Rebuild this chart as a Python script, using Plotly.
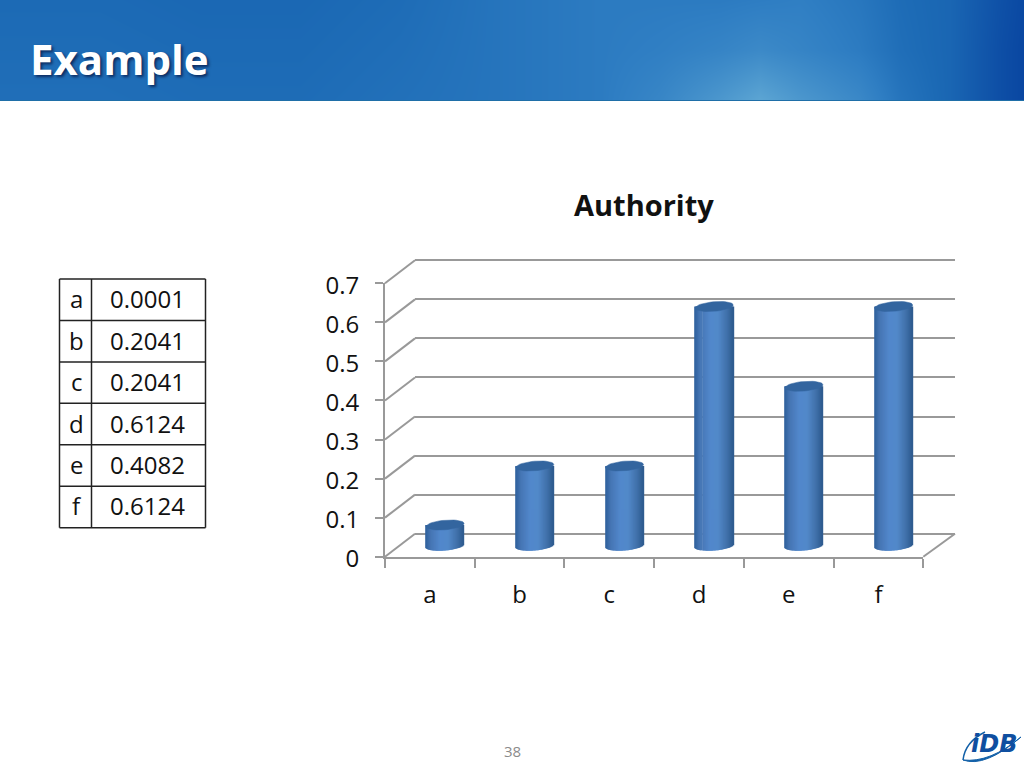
import math
import plotly.graph_objects as go

# ---- data ----
categories = ["a", "b", "c", "d", "e", "f"]
bar_values = [0.053, 0.2041, 0.2041, 0.6124, 0.4082, 0.6124]
table_names = ["a", "b", "c", "d", "e", "f"]
table_values = ["0.0001", "0.2041", "0.2041", "0.6124", "0.4082", "0.6124"]
y_ticks = [0, 0.1, 0.2, 0.3, 0.4, 0.5, 0.6, 0.7]
y_tick_labels = ["0", "0.1", "0.2", "0.3", "0.4", "0.5", "0.6", "0.7"]
title_text = "Example"
chart_title = "Authority"
page_number = "38"

# header backdrop: lightness samples
hdr_x = [0, 100, 200, 300, 400, 500, 600, 660, 720, 760, 800, 860, 900, 950, 1000, 1024]
hdr_y = [0, 50, 100]
hdr_l = [
    [.36, .36, .34, .34, .38, .46, .52, .52, .52, .54, .56, .48, .38, .32, .12, .04],
    [.38, .38, .36, .36, .40, .46, .52, .56, .62, .68, .62, .52, .40, .32, .10, .02],
    [.40, .40, .38, .38, .42, .46, .52, .64, .84, 1.0, .84, .66, .46, .32, .10, .02],
]
hdr_scale = [[0, "#0844A0"], [.36, "#1C6AB5"], [.55, "#2F7EC3"], [1, "#5CA5D3"]]

FONT = "Open Sans"
GRAY = "#999999"
W, H = 1024, 768


def fx(p):
    return p / W


def fy(p):
    return 1 - p / H


# chart frame (page pixels)
FRONT_L, FRONT_R, FRONT_TOP, FRONT_ZERO = 385.0, 923.3, 283.3, 556.7
DEPTH_X, DEPTH_Y = 30.0, 23.0
PX_PER_VALUE = (FRONT_ZERO - FRONT_TOP) / 0.7
BAR_SHIFT_X, BAR_SHIFT_Y = 15.2, 11.0
BAR_HALF = 0.212   # category units
ELL_B, ELL_TILT = 4.8, 1.5  # px
Y3_LOW, Y3_HIGH = -0.05, 0.75
WALL_LOW, WALL_HIGH = -0.01, 0.71
LABEL_DROP = 2.0

fig = go.Figure()

# header gradient
fig.add_trace(go.Heatmap(x=hdr_x, y=hdr_y, z=hdr_l, zmin=0, zmax=1, colorscale=hdr_scale,
                         zsmooth="best", showscale=False, hoverinfo="skip",
                         xaxis="x4", yaxis="y4"))

# back wall (gridlines live on this axis)
fig.add_trace(go.Scatter(x=[0], y=[0], mode="markers", marker=dict(opacity=0),
                         showlegend=False, hoverinfo="skip", xaxis="x", yaxis="y"))
# front axis
fig.add_trace(go.Scatter(x=categories, y=[0] * 6, mode="markers", marker=dict(opacity=0),
                         showlegend=False, hoverinfo="skip", xaxis="x2", yaxis="y2"))
# value labels axis
fig.add_trace(go.Scatter(x=categories, y=[0] * 6, mode="markers", marker=dict(opacity=0),
                         showlegend=False, hoverinfo="skip", xaxis="x2", yaxis="y5"))

# cylinders as narrow shaded strips
stops = [(0, (0x2D, 0x5F, 0x9B)), (.15, (0x46, 0x76, 0xB4)), (.4, (0x52, 0x88, 0xCC)),
         (.6, (0x52, 0x89, 0xC9)), (.85, (0x3F, 0x6F, 0xA8)), (1, (0x2E, 0x5A, 0x8E))]


def shade(t):
    for (a, ca), (b, cb) in zip(stops, stops[1:]):
        if t <= b:
            k = (t - a) / (b - a)
            return "rgb(%d,%d,%d)" % tuple(round(p + (q - p) * k) for p, q in zip(ca, cb))
    return "rgb(46,90,142)"


N = 38
idx = list(range(len(categories)))
strip = 2 * BAR_HALF / N
for i in range(N):
    u = -1 + (2 * i + 1) / N
    drop = (ELL_B * math.sqrt(max(0, 1 - u * u)) - ELL_TILT * u) / PX_PER_VALUE
    fig.add_trace(go.Bar(x=idx, y=[v + drop for v in bar_values], base=[-drop] * 6,
                         width=strip * 1.4 if i < N - 1 else strip, offset=-BAR_HALF + i * strip,
                         marker=dict(color=shade((i + .5) / N), line=dict(width=0)),
                         showlegend=False, hoverinfo="skip", cliponaxis=False,
                         xaxis="x3", yaxis="y3"))

# cylinder tops
ex, ey = [], []
for k, v in zip(idx, bar_values):
    for s in range(41):
        t = 2 * math.pi * s / 40
        ex.append(k + BAR_HALF * math.cos(t))
        ey.append(v + (ELL_B * math.sin(t) + ELL_TILT * math.cos(t)) / PX_PER_VALUE)
    ex.append(None)
    ey.append(None)
fig.add_trace(go.Scatter(x=ex, y=ey, mode="lines", fill="toself", fillcolor="#33659F",
                         line=dict(width=0.5, color="#33659F"), showlegend=False,
                         hoverinfo="skip", cliponaxis=False, xaxis="x3", yaxis="y3"))

shapes = []
# side wall and floor diagonals
for v in y_ticks:
    y0 = FRONT_ZERO - v * PX_PER_VALUE
    shapes.append(dict(type="line", xref="paper", yref="paper", x0=fx(FRONT_L), y0=fy(y0),
                       x1=fx(FRONT_L + DEPTH_X), y1=fy(y0 - DEPTH_Y),
                       line=dict(color=GRAY, width=2), layer="below"))
shapes.append(dict(type="line", xref="paper", yref="paper", x0=fx(FRONT_R), y0=fy(FRONT_ZERO),
                   x1=fx(FRONT_R + 31.7), y1=fy(FRONT_ZERO - DEPTH_Y),
                   line=dict(color=GRAY, width=2), layer="below"))

# table grid
T_L, T_M, T_R, T_T, T_B = 59.5, 91.5, 205.5, 279.0, 527.7
row_h = (T_B - T_T) / len(table_names)
for x in (T_L, T_M, T_R):
    shapes.append(dict(type="line", xref="paper", yref="paper", x0=fx(x), x1=fx(x),
                       y0=fy(T_T), y1=fy(T_B), line=dict(color="#222222", width=1.5)))
for r in range(len(table_names) + 1):
    y = T_T + r * row_h
    shapes.append(dict(type="line", xref="paper", yref="paper", x0=fx(T_L), x1=fx(T_R),
                       y0=fy(y), y1=fy(y), line=dict(color="#222222", width=1.5)))

# header bottom rim
shapes.append(dict(type="line", xref="paper", yref="paper", x0=0, x1=1, y0=fy(100.5), y1=fy(100.5),
                   line=dict(color="#1F6FA8", width=1)))

# logo swoosh
shapes.append(dict(type="path", xref="paper", yref="paper",
                   path="M %f %f Q %f %f %f %f Q %f %f %f %f Z" % (
                       fx(963), fy(760), fx(985), fy(768), fx(1021), fy(737),
                       fx(990), fy(763), fx(963), fy(760)),
                   fillcolor="#1260A8", line=dict(color="#1260A8", width=1)))
shapes.append(dict(type="path", xref="paper", yref="paper",
                   path="M %f %f Q %f %f %f %f" % (fx(963), fy(760), fx(965), fy(742), fx(985), fy(732)),
                   line=dict(color="#1260A8", width=1.5)))

annotations = []
for r, (n, val) in enumerate(zip(table_names, table_values)):
    yc = T_T + (r + .5) * row_h - 1
    annotations.append(dict(text=n, x=fx((T_L + T_M) / 2 + 1), y=fy(yc), xref="paper", yref="paper",
                            showarrow=False, xanchor="center", yanchor="middle",
                            font=dict(family=FONT, size=24, color="#111111")))
    annotations.append(dict(text=val, x=fx(147.5), y=fy(yc), xref="paper", yref="paper",
                            showarrow=False, xanchor="center", yanchor="middle",
                            font=dict(family=FONT, size=24, color="#111111")))
annotations += [
    dict(text=title_text, x=fx(28), y=fy(58), xref="paper", yref="paper", showarrow=False,
         xanchor="left", yanchor="middle",
         font=dict(family=FONT, size=42, color="white", weight="bold",
                   shadow="2px 2px 3px rgba(0,0,40,0.6)")),
    dict(text=chart_title, x=fx(644), y=fy(204), xref="paper", yref="paper", showarrow=False,
         xanchor="center", yanchor="middle",
         font=dict(family=FONT, size=29, color="#111111", weight="bold")),
    dict(text=page_number, x=fx(512), y=fy(751), xref="paper", yref="paper", showarrow=False,
         xanchor="center", yanchor="middle", font=dict(family=FONT, size=15, color="#8B8B8B")),
    dict(text="iDB", x=fx(994), y=fy(744), xref="paper", yref="paper", showarrow=False,
         xanchor="center", yanchor="middle",
         font=dict(family="DejaVu Sans", size=24, color="#0F4FA0", weight="bold", style="italic")),
]

hidden = dict(visible=False, showgrid=False, zeroline=False)
fig.update_layout(
    width=W, height=H, margin=dict(l=0, r=0, t=0, b=0, pad=0, autoexpand=False),
    paper_bgcolor="white", plot_bgcolor="rgba(0,0,0,0)",
    barmode="overlay", showlegend=False, font=dict(family=FONT, color="#111111"),
    shapes=shapes, annotations=annotations,
    # back wall
    xaxis=dict(domain=[fx(FRONT_L + DEPTH_X), fx(955.3)], range=[0, 1], **hidden),
    yaxis=dict(domain=[fy(FRONT_ZERO - DEPTH_Y - WALL_LOW * PX_PER_VALUE),
                       fy(FRONT_ZERO - DEPTH_Y - WALL_HIGH * PX_PER_VALUE)],
               range=[WALL_LOW, WALL_HIGH], tickvals=y_ticks,
               showgrid=True, gridcolor=GRAY, gridwidth=2, zeroline=False, showline=False,
               showticklabels=False, ticks=""),
    # front axes
    xaxis2=dict(domain=[fx(FRONT_L), fx(FRONT_R)], type="category", categoryorder="array",
                categoryarray=categories, range=[-0.5, 5.5], anchor="y2", tickson="boundaries",
                ticks="outside", ticklen=9, tickwidth=1.5, tickcolor=GRAY, showline=True, linecolor=GRAY,
                linewidth=2, showgrid=False, zeroline=False, tickfont=dict(family=FONT, size=24, color="#111111"),
                ticklabelstandoff=15),
    yaxis2=dict(domain=[fy(FRONT_ZERO), fy(FRONT_TOP)], range=[0, 0.7], anchor="x2", tickvals=y_ticks,
                showticklabels=False,
                ticks="outside", ticklen=8, tickwidth=1.5, tickcolor=GRAY, showline=True, linecolor=GRAY,
                linewidth=2, showgrid=False, zeroline=False),
    # value labels, a touch lower than the tick marks as in the reference
    yaxis5=dict(domain=[fy(FRONT_ZERO + LABEL_DROP), fy(FRONT_TOP + LABEL_DROP)], range=[0, 0.7], anchor="x2",
                tickvals=y_ticks, ticktext=y_tick_labels, ticks="outside", ticklen=8, tickcolor="rgba(0,0,0,0)",
                showline=False, showgrid=False, zeroline=False,
                tickfont=dict(family=FONT, size=24, color="#111111"), ticklabelstandoff=12),
    # cylinders, shifted half way into the depth of the chart
    xaxis3=dict(domain=[fx(FRONT_L + BAR_SHIFT_X), fx(FRONT_R + BAR_SHIFT_X)], range=[-0.5, 5.5], anchor="y3", **hidden),
    yaxis3=dict(domain=[fy(FRONT_ZERO - BAR_SHIFT_Y - Y3_LOW * PX_PER_VALUE),
                        fy(FRONT_ZERO - BAR_SHIFT_Y - Y3_HIGH * PX_PER_VALUE)],
                range=[Y3_LOW, Y3_HIGH], anchor="x3", **hidden),
    # header band
    xaxis4=dict(domain=[0, 1], range=[0, 1024], anchor="y4", **hidden),
    yaxis4=dict(domain=[fy(100), 1], range=[100, 0], anchor="x4", **hidden),
)

fig.write_html("out.html", config={"displayModeBar": False},
               post_script="document.body.style.margin='0';document.body.style.overflow='hidden';")
